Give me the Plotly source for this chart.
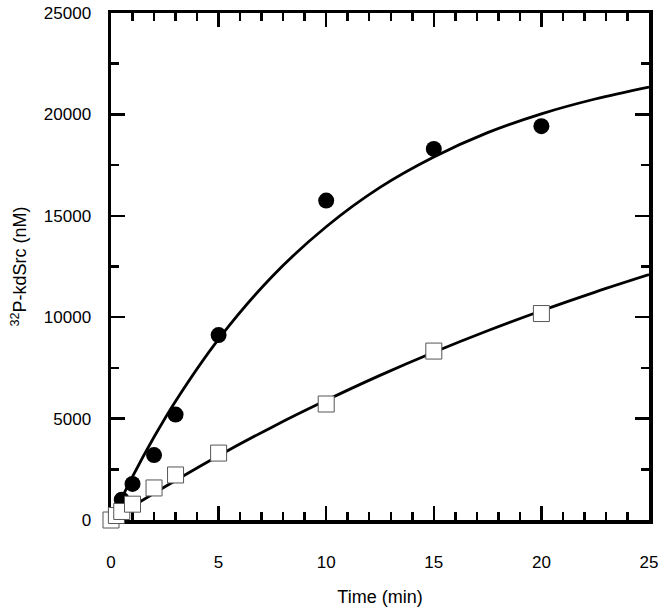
import plotly.graph_objects as go

# Measured data (filled circles)
t_circle = [0.5, 1, 2, 3, 5, 10, 15, 20]
y_circle = [1000, 1780, 3200, 5200, 9120, 15750, 18300, 19420]

# Measured data (open squares)
t_square = [0, 0.25, 0.5, 1, 2, 3, 5, 10, 15, 20]
y_square = [0, 220, 420, 780, 1580, 2220, 3300, 5720, 8330, 10180]

# Fitted curves, values
t_fit = [0, 1, 2, 3, 5, 7.5, 10, 12.5, 15, 17.5, 20, 22.5, 25]
y_fit_circle = [0, 2140, 4090, 5860, 8920, 12020, 14460, 16400, 17900, 19100, 20030, 20760, 21350]
y_fit_square = [0, 670, 1320, 1950, 3170, 4590, 5900, 7130, 8270, 9330, 10320, 11240, 12100]

x_ticks = [0, 5, 10, 15, 20, 25]
y_ticks = [0, 5000, 10000, 15000, 20000, 25000]

FONT = "Liberation Sans, Arial"

fig = go.Figure()
fig.add_trace(go.Scatter(x=t_fit, y=y_fit_circle, mode="lines", line=dict(color="black", width=2.8, shape="spline"),
                         cliponaxis=False, showlegend=False))
fig.add_trace(go.Scatter(x=t_fit, y=y_fit_square, mode="lines", line=dict(color="black", width=2.8, shape="spline"),
                         cliponaxis=False, showlegend=False))
fig.add_trace(go.Scatter(x=t_circle, y=y_circle, mode="markers",
                         marker=dict(symbol="circle", size=16, color="black"),
                         cliponaxis=False, showlegend=False))
fig.add_trace(go.Scatter(x=t_square, y=y_square, mode="markers",
                         marker=dict(symbol="square", size=16, color="white", line=dict(color="#555555", width=1)),
                         cliponaxis=False, showlegend=False))

axis_common = dict(
    showgrid=False, zeroline=False, showline=True, linecolor="black", linewidth=3.5,
    mirror="allticks", ticks="inside", ticklen=14, tickwidth=2.5, tickcolor="black",
    tickfont=dict(family=FONT, size=17, color="black"),
    layer="below traces", automargin=False,
)

fig.update_xaxes(range=[0, 25], tickvals=x_ticks, ticktext=[str(v) for v in x_ticks],
                 minor=dict(dtick=1, ticks="inside", ticklen=8, tickwidth=2.5, tickcolor="black"),
                 title=dict(text="Time (min)", font=dict(family=FONT, size=18, color="black"), standoff=20),
                 ticklabelstandoff=24, **axis_common)
fig.update_yaxes(range=[0, 25000], tickvals=y_ticks, ticktext=[str(v) for v in y_ticks],
                 minor=dict(dtick=2500, ticks="inside", ticklen=8, tickwidth=2.5, tickcolor="black"),
                 title=dict(text="<sup>32</sup>P-kdSrc (nM)", font=dict(family=FONT, size=18, color="black"), standoff=13),
                 ticklabelstandoff=13, **axis_common)

fig.update_layout(width=664, height=609, margin=dict(l=111, r=15, t=13, b=89, autoexpand=False),
                  plot_bgcolor="white", paper_bgcolor="white", hovermode=False)
fig.write_html("out.html", config={"displayModeBar": False, "staticPlot": True},
               post_script="document.body.style.margin='0';document.body.style.padding='0';")
